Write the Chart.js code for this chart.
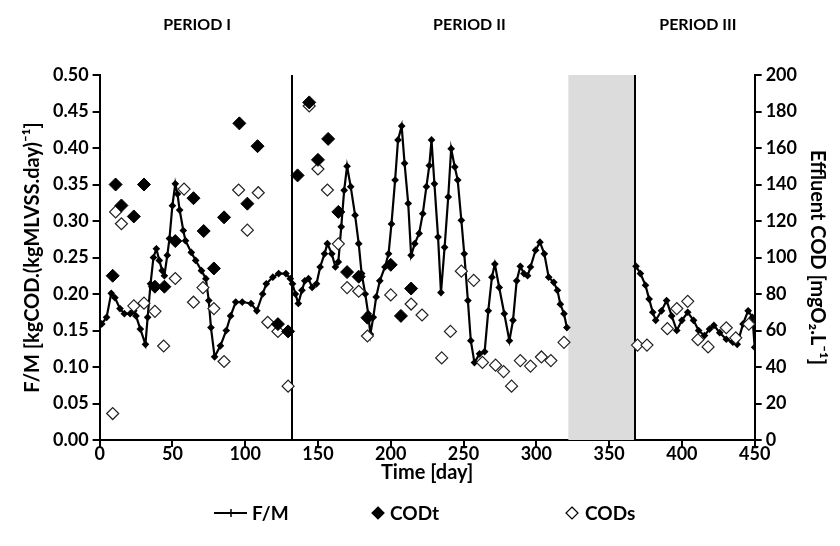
<!DOCTYPE html>
<html>
<head>
<meta charset="utf-8">
<script src="https://cdn.jsdelivr.net/npm/chart.js@4.4.1/dist/chart.umd.min.js"></script>
<style>
  body { margin: 0; background: #fff; }
  #wrap { width: 840px; height: 546px; }
</style>
</head>
<body>
<div id="wrap"><canvas id="myChart" width="840" height="546"></canvas></div>
<script>
// F/M loading rate (left axis)
var fmDays = [0, 1.5, 4.8, 8, 10.5, 14, 17, 21, 23.5, 25, 28, 31.5, 33, 35, 37, 39, 41, 43, 44.5, 46.5,
  48, 50, 52, 53.5, 55, 57.5, 59, 63, 66, 70, 73, 75, 76.5, 79, 83, 87, 90, 93.5, 98, 104,
  108, 112, 114.5, 119, 123, 128, 131, 132.5, 134.5, 136.5, 139, 141, 143.5, 146, 149, 151.5, 154.5, 156.5, 159.5, 162,
  164, 166, 168, 170, 172.5, 175.5, 178, 180, 182.5, 184.5, 186, 188, 190, 192.5, 196, 198.5, 200.5, 203, 205, 207.5,
  209.5, 212, 214, 216.5, 219.5, 222, 224.5, 226.5, 228, 230, 232.5, 234.5, 237, 239.5, 241.5, 244, 246, 248.5, 250.5, 253,
  255, 257.5, 261, 264.5, 267, 269.5, 271.5, 274.5, 278, 281.5, 284, 286.5, 289, 291.5, 294, 296, 299.5, 302.5, 305.5, 308.5,
  312, 314.5, 316.5, 319, 321, 345,
  368.5, 371.5, 375, 377.5, 380, 382, 386, 389.5, 393, 396.5, 400, 404, 408, 411.5, 415.5, 419, 422, 426, 430.5, 435,
  438, 442, 445.5, 448.5, 450];
var fmValues = [0.157, 0.159, 0.168, 0.201, 0.195, 0.180, 0.173, 0.173, 0.177, 0.170, 0.152, 0.131, 0.168, 0.214, 0.250, 0.262, 0.246, 0.232, 0.225, 0.253,
  0.276, 0.321, 0.351, 0.337, 0.315, 0.287, 0.273, 0.257, 0.246, 0.232, 0.221, 0.191, 0.154, 0.114, 0.129, 0.150, 0.170, 0.189, 0.189, 0.187,
  0.177, 0.200, 0.214, 0.223, 0.228, 0.228, 0.221, 0.214, 0.200, 0.187, 0.205, 0.218, 0.221, 0.209, 0.214, 0.237, 0.255, 0.269, 0.255, 0.237,
  0.244, 0.292, 0.342, 0.375, 0.347, 0.308, 0.269, 0.228, 0.200, 0.173, 0.145, 0.168, 0.196, 0.218, 0.237, 0.255, 0.296, 0.356, 0.411, 0.430,
  0.379, 0.324, 0.253, 0.269, 0.283, 0.310, 0.347, 0.376, 0.411, 0.351, 0.278, 0.202, 0.264, 0.333, 0.399, 0.374, 0.356, 0.301, 0.255, 0.191,
  0.136, 0.106, 0.118, 0.121, 0.177, 0.223, 0.241, 0.209, 0.173, 0.136, 0.164, 0.218, 0.238, 0.228, 0.225, 0.237, 0.260, 0.271, 0.255, 0.223,
  0.216, 0.205, 0.186, 0.173, 0.154, null,
  0.238, 0.228, 0.212, 0.193, 0.175, 0.164, 0.177, 0.191, 0.170, 0.150, 0.164, 0.175, 0.164, 0.150, 0.143, 0.152, 0.157, 0.147, 0.138, 0.134,
  0.131, 0.159, 0.177, 0.168, 0.127];

// total effluent COD (right axis)
var codtDays = [9, 11, 15, 23.5, 30.5, 38, 44.5, 52, 64.5, 71.5, 78.5, 85.5, 96, 101.5, 108.5, 122.5, 129.5,
  136, 144, 150, 157, 164, 170, 178, 184, 200, 207, 214];
var codtValues = [90, 140, 128.5, 122.5, 140, 84, 84, 109, 132.5, 114.5, 94, 122, 173.5, 129.5, 161, 63.5, 59.5,
  145, 185, 153.5, 165, 125, 92, 89.5, 67, 96, 68, 83];

// soluble effluent COD (right axis)
var codsDays = [9, 11, 15, 23.5, 30.5, 38, 44, 52, 58, 64.5, 71, 78.5, 85.5, 95.5, 101.5, 109, 115.5, 122.5, 129.5,
  144, 150, 156.5, 164, 170, 178, 184, 200, 214, 221.5, 235, 241, 248.5, 257, 263, 272, 277.5, 283, 289, 296, 303.5, 310, 319,
  369.5, 376, 390, 396.5, 404, 411, 418, 430.5, 437, 446];
var codsValues = [14.5, 125, 118.5, 73.5, 75, 70.5, 51.5, 88.5, 137.5, 75.5, 83.5, 72, 43, 137, 115, 135.5, 64.5, 59.5, 29.5,
  183, 148.5, 137, 107.5, 83.5, 81.5, 57, 79.5, 74.5, 68.5, 45, 59.5, 92.5, 87.5, 42.5, 41, 37.5, 29.5, 43.5, 40.5, 45.5, 43.5, 53.5,
  52, 52, 61, 72, 76, 55, 51, 61.5, 56, 63.5];

// periods
var periodNames = ["PERIOD I", "PERIOD II", "PERIOD III"];
var periodLabelDays = [67, 254, 411];
var periodBounds = [132, 368];
var shutdown = [322, 368];

var legendNames = ["F/M", "CODt", "CODs"];

function pts(xs, ys) {
  return xs.map(function (x, i) { return { x: x, y: ys[i] }; });
}

var FONT = "Lato, 'Open Sans', sans-serif";

function diamond(ctx, cx, cy, r, filled) {
  ctx.beginPath();
  ctx.moveTo(cx, cy - r); ctx.lineTo(cx + r, cy); ctx.lineTo(cx, cy + r); ctx.lineTo(cx - r, cy);
  ctx.closePath();
  ctx.fillStyle = filled ? "#000" : "#fff"; ctx.fill();
  ctx.strokeStyle = "#000"; ctx.lineWidth = 1.2; ctx.stroke();
}

var periodPlugin = {
  id: "periods",
  beforeDatasetsDraw: function (chart) {
    var ctx = chart.ctx, a = chart.chartArea, x = chart.scales.x;
    ctx.save();
    ctx.fillStyle = "#dcdcdc";
    var x0 = x.getPixelForValue(shutdown[0]), x1 = x.getPixelForValue(shutdown[1]);
    ctx.fillRect(x0, a.top, x1 - x0, a.bottom - a.top);
    ctx.strokeStyle = "#000"; ctx.lineWidth = 2;
    periodBounds.forEach(function (d) {
      var px = Math.round(x.getPixelForValue(d));
      ctx.beginPath(); ctx.moveTo(px, a.top); ctx.lineTo(px, a.bottom); ctx.stroke();
    });
    ctx.restore();
  },
  afterDraw: function (chart) {
    var ctx = chart.ctx, x = chart.scales.x;
    ctx.save();
    ctx.fillStyle = "#000";
    ctx.font = "bold 16px " + FONT;
    ctx.textAlign = "center"; ctx.textBaseline = "middle";
    periodNames.forEach(function (n, i) {
      ctx.fillText(n, x.getPixelForValue(periodLabelDays[i]), 25);
    });

    // legend row
    var ly = 513;
    ctx.font = "bold 19px " + FONT;
    ctx.textAlign = "left";
    ctx.strokeStyle = "#000"; ctx.lineWidth = 2;
    ctx.beginPath(); ctx.moveTo(214, ly); ctx.lineTo(247, ly); ctx.stroke();
    ctx.lineWidth = 1.5;
    ctx.beginPath(); ctx.moveTo(231, ly - 4); ctx.lineTo(231, ly + 4); ctx.stroke();
    ctx.fillStyle = "#000";
    ctx.fillText(legendNames[0], 252, ly + 1);
    diamond(ctx, 378, ly, 6, true);
    ctx.fillStyle = "#000";
    ctx.fillText(legendNames[1], 390, ly + 1);
    diamond(ctx, 572, ly, 6, false);
    ctx.fillStyle = "#000";
    ctx.fillText(legendNames[2], 585, ly + 1);
    ctx.restore();
  }
};

var tickFont = { family: FONT, size: 18, weight: "bold" };
var xTickFont = { family: FONT, size: 18, weight: "bold", lineHeight: 1 };
var titleFont = { family: FONT, size: 20, weight: "bold" };
var xTitleFont = { family: FONT, size: 20, weight: "bold", lineHeight: 1 };

new Chart("myChart", {
  data: {
    datasets: [{
      type: "scatter",
      label: "CODt",
      data: pts(codtDays, codtValues),
      yAxisID: "y1",
      pointStyle: "rectRot",
      pointRadius: 6.5,
      backgroundColor: "#000",
      borderColor: "#000",
      borderWidth: 1,
      order: 1
    }, {
      type: "scatter",
      label: "CODs",
      data: pts(codsDays, codsValues),
      yAxisID: "y1",
      pointStyle: "rectRot",
      pointRadius: 6,
      backgroundColor: "#fff",
      borderColor: "#222",
      borderWidth: 1.2,
      order: 2
    }, {
      type: "line",
      label: "F/M",
      data: pts(fmDays, fmValues),
      yAxisID: "y",
      borderColor: "#000",
      backgroundColor: "#000",
      borderWidth: 2.2,
      pointStyle: "rectRot",
      pointRadius: 2.3,
      spanGaps: false,
      tension: 0,
      order: 3
    }]
  },
  options: {
    responsive: false,
    animation: false,
    devicePixelRatio: 1,
    layout: { padding: { top: 75, left: 17, right: 7, bottom: 63 } },
    plugins: {
      tooltip: { enabled: false },
      legend: { display: false }
    },
    scales: {
      x: {
        type: "linear",
        min: 0, max: 450,
        border: { color: "#000", width: 2 },
        grid: { drawOnChartArea: false, color: "#000", lineWidth: 2, tickLength: 7 },
        ticks: { stepSize: 50, color: "#000", font: xTickFont, padding: -2 },
        title: { display: true, text: "Time [day]", color: "#000", font: xTitleFont, padding: { top: 2, bottom: 0 } }
      },
      y: {
        position: "left",
        min: 0, max: 0.5,
        border: { color: "#000", width: 2 },
        grid: { drawOnChartArea: false, color: "#000", lineWidth: 2, tickLength: 7 },
        ticks: { stepSize: 0.05, color: "#000", font: tickFont, padding: 4,
          callback: function (v) { return v.toFixed(2); } },
        title: { display: true, text: "F/M [kgCOD.(kgMLVSS.day)⁻¹]", color: "#000", font: titleFont, padding: 4 }
      },
      y1: {
        position: "right",
        min: 0, max: 200,
        border: { color: "#000", width: 2 },
        grid: { drawOnChartArea: false, color: "#000", lineWidth: 2, tickLength: 7 },
        ticks: { stepSize: 20, color: "#000", font: tickFont, padding: 4 },
        title: { display: true, text: "Effluent COD [mgO₂.L⁻¹]", color: "#000", font: titleFont, padding: 4 }
      }
    }
  },
  plugins: [periodPlugin]
});
</script>
</body>
</html>
